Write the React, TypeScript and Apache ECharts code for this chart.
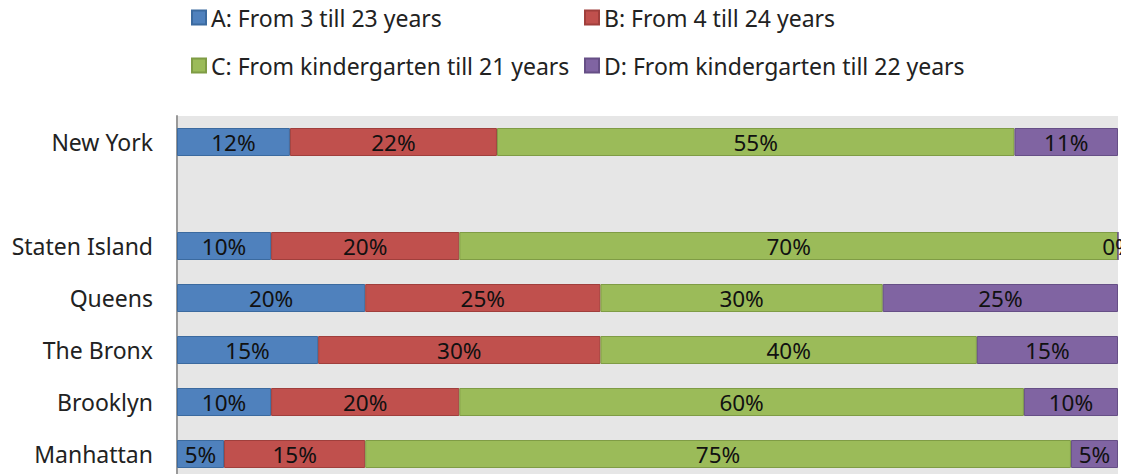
import React, { useEffect, useRef } from "react";
import * as echarts from "echarts";

const categories = ["Manhattan", "Brooklyn", "The Bronx", "Queens", "Staten Island", "", "New York"];
const seriesNames = [
  "A: From 3 till 23 years",
  "B: From 4 till 24 years",
  "C: From kindergarten till 21 years",
  "D: From kindergarten till 22 years",
];
const seriesA = [5, 10, 15, 20, 10, null, 12];
const seriesB = [15, 20, 30, 25, 20, null, 22];
const seriesC = [75, 60, 40, 30, 70, null, 55];
const seriesD = [5, 10, 15, 25, 0, null, 11];

const colors = ["#4F81BD", "#C0504D", "#9BBB59", "#8064A2"];
const borders = ["#3B6A9F", "#A03F3C", "#7F9C45", "#664F86"];
const FONT = "Noto Sans";
const FS = 23;

export default function App() {
  const ref = useRef<HTMLDivElement>(null);
  useEffect(() => {
    if (!ref.current) return;
    const chart = echarts.init(ref.current, undefined, { renderer: "svg" });
    const values = [seriesA, seriesB, seriesC, seriesD];
    const legendPos = [
      { left: 186, top: 1 },
      { left: 579, top: 1 },
      { left: 186, top: 49 },
      { left: 579, top: 49 },
    ];
    chart.setOption({
      animation: false,
      color: colors,
      legend: seriesNames.map((n, i) => ({
        data: [n],
        left: legendPos[i].left,
        top: legendPos[i].top,
        itemWidth: 14,
        itemHeight: 14,
        itemGap: 0,
        icon: "rect",
        textStyle: { fontFamily: FONT, fontSize: FS, color: "#222" },
        selectedMode: false,
      })),
      grid: {
        left: 177,
        right: 3,
        top: 116,
        height: 364,
        show: true,
        backgroundColor: "#E6E6E6",
        borderWidth: 0,
      },
      xAxis: {
        type: "value",
        min: 0,
        max: 100,
        show: false,
      },
      yAxis: {
        type: "category",
        data: categories,
        axisLine: { show: true, lineStyle: { color: "#999", width: 2 } },
        axisTick: { show: false },
        axisLabel: { fontFamily: FONT, fontSize: FS, color: "#222", margin: 24 },
        splitLine: { show: false },
      },
      series: values.map((v, i) => ({
        name: seriesNames[i],
        type: "bar",
        stack: "total",
        barWidth: 28,
        data: v,
        itemStyle: { color: colors[i], borderColor: borders[i], borderWidth: 1 },
        label: {
          show: true,
          position: "inside",
          formatter: "{c}%",
          fontFamily: FONT,
          fontSize: 22.5,
          color: "#111",
        },
      })),
    });
    return () => chart.dispose();
  }, []);
  return (
    <div
      ref={ref}
      style={{ position: "fixed", left: 0, top: 0, width: 1121, height: 500, background: "#fff" }}
    />
  );
}
